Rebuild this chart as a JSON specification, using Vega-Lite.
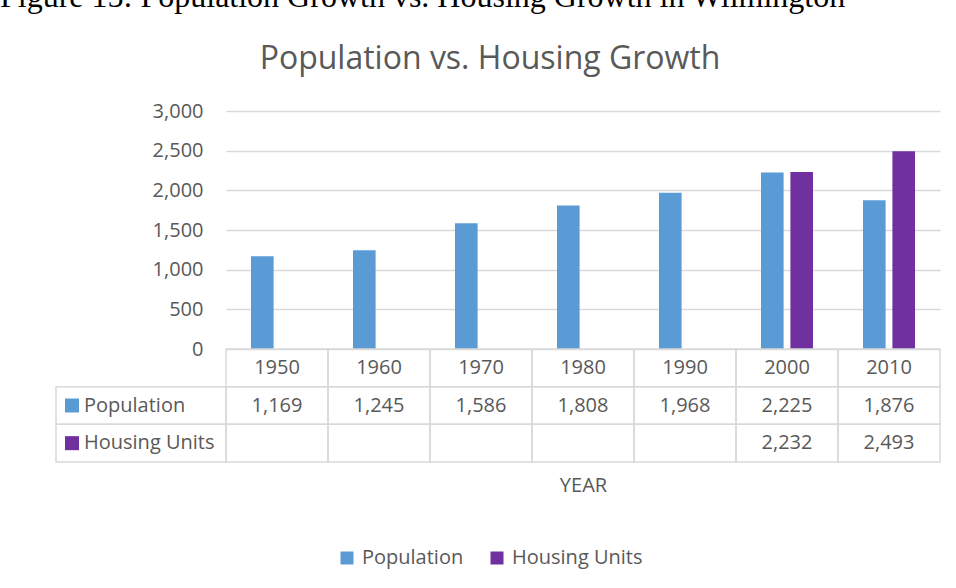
{
  "$schema": "https://vega.github.io/schema/vega-lite/v6.json",
  "padding": {"left": 0, "top": -19, "right": 0, "bottom": 30},
  "background": "white",
  "title": {
    "text": "Figure 15: Population Growth vs. Housing Growth in Wilmington",
    "font": "Liberation Serif",
    "fontSize": 32,
    "fontWeight": "normal",
    "color": "#000000",
    "anchor": "start",
    "frame": "group",
    "dx": -56,
    "offset": 29
  },
  "datasets": {
    "cells": [
      {"year": "1950", "series": "Population", "value": 1169},
      {"year": "1960", "series": "Population", "value": 1245},
      {"year": "1970", "series": "Population", "value": 1586},
      {"year": "1980", "series": "Population", "value": 1808},
      {"year": "1990", "series": "Population", "value": 1968},
      {"year": "2000", "series": "Population", "value": 2225},
      {"year": "2010", "series": "Population", "value": 1876},
      {"year": "1950", "series": "Housing Units", "value": null},
      {"year": "1960", "series": "Housing Units", "value": null},
      {"year": "1970", "series": "Housing Units", "value": null},
      {"year": "1980", "series": "Housing Units", "value": null},
      {"year": "1990", "series": "Housing Units", "value": null},
      {"year": "2000", "series": "Housing Units", "value": 2232},
      {"year": "2010", "series": "Housing Units", "value": 2493}
    ],
    "years": [
      {"year": "1950"}, {"year": "1960"}, {"year": "1970"}, {"year": "1980"},
      {"year": "1990"}, {"year": "2000"}, {"year": "2010"}
    ],
    "series": [
      {"series": "Population"}, {"series": "Housing Units"}
    ]
  },
  "columns": 2,
  "spacing": 0,
  "bounds": "flush",
  "concat": [
    {
      "width": 170,
      "height": 238,
      "data": {"values": [{"a": 1}]},
      "mark": {"type": "text", "text": ""},
      "encoding": {}
    },
    {
      "width": 714,
      "height": 238,
      "title": {
        "text": "Population vs. Housing Growth",
        "font": "Open Sans",
        "fontSize": 32,
        "fontWeight": "normal",
        "color": "#595959",
        "anchor": "middle",
        "dx": -93,
        "offset": 25
      },
      "data": {"name": "cells"},
      "transform": [{"filter": "datum.value != null"}],
      "mark": {"type": "bar"},
      "encoding": {
        "x": {
          "field": "year", "type": "ordinal",
          "scale": {"paddingInner": 0.49, "paddingOuter": 0.245},
          "axis": null
        },
        "xOffset": {
          "field": "series", "type": "nominal",
          "scale": {"domain": ["Population", "Housing Units"], "paddingInner": 0.231, "paddingOuter": 0}
        },
        "y": {
          "field": "value", "type": "quantitative",
          "scale": {"domain": [0, 3000], "nice": false},
          "axis": {
            "title": null,
            "values": [0, 500, 1000, 1500, 2000, 2500, 3000],
            "format": ",d",
            "domain": false,
            "ticks": false,
            "labelPadding": 23,
            "labelFontSize": 20,
            "labelFont": "Open Sans",
            "labelColor": "#595959",
            "gridColor": "#d9d9d9",
            "gridWidth": 1.3
          }
        },
        "color": {
          "field": "series", "type": "nominal",
          "scale": {"domain": ["Population", "Housing Units"], "range": ["#5B9BD5", "#7030A0"]},
          "legend": {
            "title": null,
            "orient": "none",
            "direction": "horizontal",
            "legendX": 281,
            "legendY": 437,
            "symbolType": "square",
            "symbolSize": 169,
            "symbolStrokeWidth": 0,
            "labelFontSize": 20,
            "labelFont": "Open Sans",
            "labelColor": "#595959",
            "labelOffset": 5,
            "columnPadding": 23,
            "padding": 0
          }
        }
      }
    },
    {
      "width": 170,
      "height": 113,
      "data": {"name": "series"},
      "encoding": {
        "y": {
          "field": "series", "type": "nominal",
          "scale": {"domain": ["Year", "Population", "Housing Units"], "paddingInner": 0, "paddingOuter": 0},
          "axis": null
        },
        "x": {
          "datum": "label", "type": "nominal",
          "scale": {"domain": ["label"], "paddingInner": 0, "paddingOuter": 0},
          "axis": null
        }
      },
      "layer": [
        {
          "mark": {"type": "rect", "fill": null, "stroke": "#d9d9d9", "strokeWidth": 1.5}
        },
        {
          "mark": {"type": "point", "shape": "square", "filled": true, "size": 196, "opacity": 1, "xOffset": -69},
          "encoding": {
            "color": {
              "field": "series", "type": "nominal",
              "scale": {"domain": ["Population", "Housing Units"], "range": ["#5B9BD5", "#7030A0"]},
              "legend": null
            }
          }
        },
        {
          "mark": {"type": "text", "align": "left", "dx": -57, "fontSize": 20, "font": "Open Sans", "color": "#595959"},
          "encoding": {"text": {"field": "series"}}
        }
      ]
    },
    {
      "width": 714,
      "height": 113,
      "layer": [
        {
          "data": {"name": "years"},
          "mark": {"type": "rect", "fill": null, "stroke": "#d9d9d9", "strokeWidth": 1.5},
          "encoding": {
            "x": {
              "field": "year", "type": "ordinal",
              "scale": {"paddingInner": 0, "paddingOuter": 0},
              "axis": {
                "title": "YEAR",
                "labels": false,
                "ticks": false,
                "domain": false,
                "titleFont": "Open Sans",
                "titleFontSize": 20,
                "titleFontWeight": "normal",
                "titleColor": "#595959",
                "titlePadding": 13
              }
            },
            "y": {
              "datum": "Year", "type": "nominal",
              "scale": {"domain": ["Year", "Population", "Housing Units"], "paddingInner": 0, "paddingOuter": 0},
              "axis": null
            }
          }
        },
        {
          "data": {"name": "cells"},
          "mark": {"type": "rect", "fill": null, "stroke": "#d9d9d9", "strokeWidth": 1.5},
          "encoding": {
            "x": {"field": "year", "type": "ordinal"},
            "y": {"field": "series", "type": "nominal"}
          }
        },
        {
          "data": {"name": "years"},
          "mark": {"type": "text", "fontSize": 20, "font": "Open Sans", "color": "#595959"},
          "encoding": {
            "x": {"field": "year", "type": "ordinal"},
            "y": {"datum": "Year", "type": "nominal"},
            "text": {"field": "year"}
          }
        },
        {
          "data": {"name": "cells"},
          "transform": [{"filter": "datum.value != null"}],
          "mark": {"type": "text", "fontSize": 20, "font": "Open Sans", "color": "#595959"},
          "encoding": {
            "x": {"field": "year", "type": "ordinal"},
            "y": {"field": "series", "type": "nominal"},
            "text": {"field": "value", "type": "quantitative", "format": ","}
          }
        }
      ]
    }
  ],
  "config": {
    "view": {"stroke": null},
    "font": "Open Sans"
  }
}
